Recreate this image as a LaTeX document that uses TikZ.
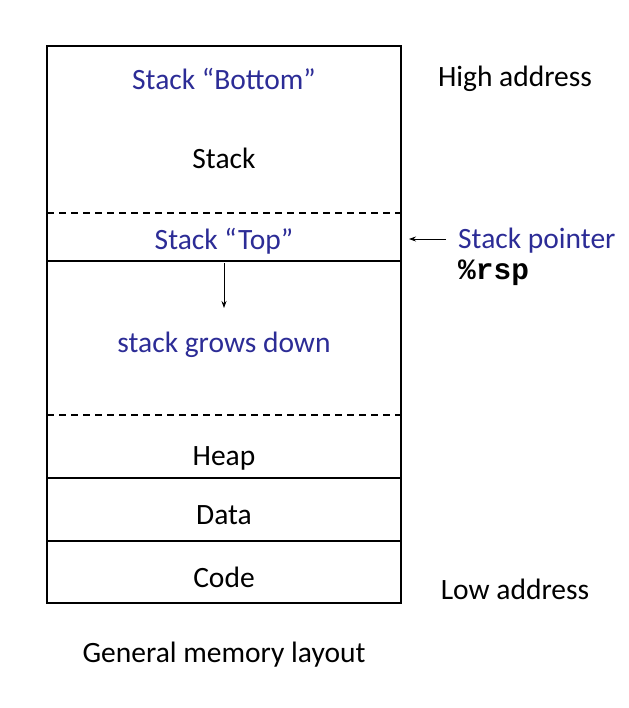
\documentclass[tikz,border=0pt]{standalone}
\usepackage{fontspec}
\setmainfont{Carlito}
\newfontfamily\codefont{Liberation Mono}
\usetikzlibrary{arrows.meta}
\definecolor{lblue}{RGB}{44,44,150}
\begin{document}
\begin{tikzpicture}[x=1pt,y=-1pt,
  lbl/.style={font=\fontsize{29.5}{34}\selectfont, inner sep=0pt, anchor=center},
  blbl/.style={lbl, text=lblue},
  wall/.style={draw=black, line width=1.6pt},
  dashln/.style={draw=black, line width=1.6pt, dash pattern=on 7pt off 5pt},
  arr/.style={draw=black, line width=0.8pt, -{Stealth[length=7pt,width=5pt]}}]
\useasboundingbox (0,0) rectangle (628,708);
\draw[wall] (47,46) rectangle (401,603);
\draw[dashln] (47,213) -- (401,213);
\draw[wall] (47,261) -- (401,261);
\draw[dashln] (47,415) -- (401,415);
\draw[wall] (47,478) -- (401,478);
\draw[wall] (47,541) -- (401,541);
\node[blbl] (bottom) at (224,79) {Stack “Bottom”};
\node[lbl] (stack) at (224,158) {Stack};
\node[blbl] (top) at (224,241) {Stack “Top”};
\node[blbl] (grows) at (224,345) {stack grows down};
\node[lbl] (heap) at (224,458) {Heap};
\node[lbl] (data) at (224,515) {Data};
\node[lbl] (code) at (224,577) {Code};
\node[lbl] (high) at (515,79) {High address};
\node[lbl] (low) at (515,589) {Low address};
\node[blbl, anchor=west] (sp) at (458,241) {Stack pointer};
\node[lbl, anchor=west] (rsp) at (458,273) {\codefont\bfseries \%rsp};
\node[lbl] (gen) at (224,655) {General memory layout};
\coordinate (g0) at (224,263);
\coordinate (g1) at (224,308);
\draw[arr] (g0) -- (g1);
\coordinate (p0) at (446,239);
\coordinate (p1) at (409,239);
\draw[arr] (p0) -- (p1);
\end{tikzpicture}
\end{document}
